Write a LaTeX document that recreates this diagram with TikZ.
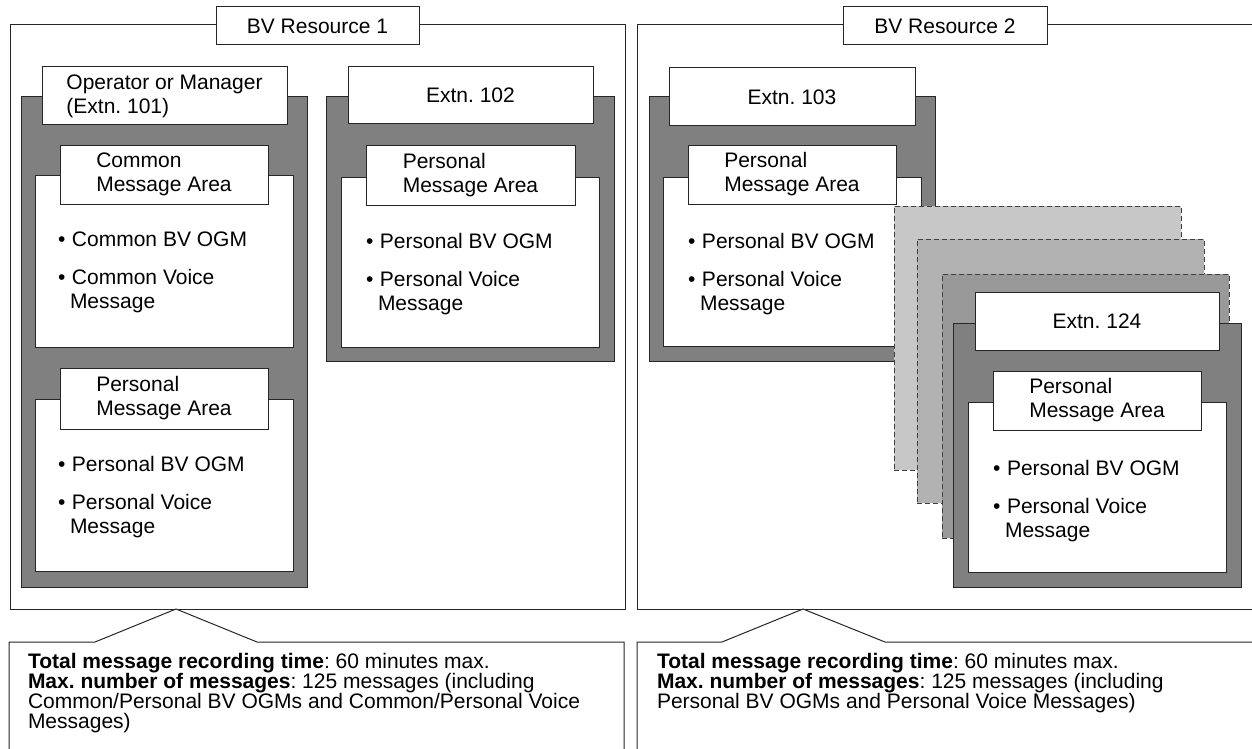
\documentclass[tikz,border=0pt]{standalone}
\usepackage{fontspec}
\setmainfont{Liberation Sans}
\usetikzlibrary{positioning, fit, calc}

% bullet line and its continuation
\newcommand{\bul}[1]{\makebox[14pt][l]{•}#1}
\newcommand{\cont}[1]{\hspace*{12pt}#1}

\begin{document}
\frenchspacing
\begin{tikzpicture}[
    x=1pt, y=-1pt,
    every node/.style={inner sep=0pt, outer sep=0pt},
    line/.style={draw=black!85, line width=1pt},
    frame/.style={line, fill=white},
    tag/.style={line, fill=white, font=\fontsize{21}{24}\selectfont, align=left},
    panel/.style={line, fill=black!50},
    area/.style={line, fill=white},
    card/.style={draw=black!75, line width=1pt, dash pattern=on 5pt off 3pt},
    items/.style={anchor=north west, font=\fontsize{21}{24}\selectfont, align=left},
    note/.style={anchor=north west, font=\fontsize{21}{20}\selectfont, align=left},
]
\useasboundingbox (0,0) rectangle (1252,749);
\clip (0,0) rectangle (1252,749);

% ---- BV resource frames ----
\node[frame, fit={(10,25) (625,609)}] (res1) {};
\node[frame, fit={(637,25) (1270,609)}] (res2) {};
\node[tag, minimum width=203pt, minimum height=38pt] (res1lbl) at (317.5,26)
    {BV Resource 1};
\node[tag, minimum width=204pt, minimum height=38pt] (res2lbl) at (945,26)
    {BV Resource 2};

% ---- Extn. 101 ----
\node[panel, fit={(21,97) (307,587)}] (p101) {};
\node[tag, minimum width=245pt, minimum height=58pt] (t101) at (164.5,96)
    {Operator or Manager\\(Extn. 101)};
\node[area, fit={(35,175) (293,347)}] (a101c) {};
\node[tag, minimum width=208pt, minimum height=59pt] (l101c) at (164,174.5)
    {Common\\Message Area};
\node[items] (i101c) at ($(a101c.north west)+(23,57)$)
    {\bul{Common BV OGM}\\[14pt]\bul{Common Voice}\\\cont{Message}};
\node[area, fit={(35,399) (293,571)}] (a101p) {};
\node[tag, minimum width=208pt, minimum height=61pt] (l101p) at (164,398.5)
    {Personal\\Message Area};
\node[items] (i101p) at ($(a101p.north west)+(23,57)$)
    {\bul{Personal BV OGM}\\[14pt]\bul{Personal Voice}\\\cont{Message}};

% ---- Extn. 102 ----
\node[panel, fit={(326,97) (614,361)}] (p102) {};
\node[tag, minimum width=245pt, minimum height=57pt] (t102) at (470.5,95.5)
    {Extn. 102};
\node[area, fit={(341,177) (599,347)}] (a102) {};
\node[tag, minimum width=209pt, minimum height=60pt] (l102) at (470.5,175)
    {Personal\\Message Area};
\node[items] (i102) at ($(a102.north west)+(25,56)$)
    {\bul{Personal BV OGM}\\[14pt]\bul{Personal Voice}\\\cont{Message}};

% ---- Extn. 103 ----
\node[panel, fit={(649,97) (935,361)}] (p103) {};
\node[tag, minimum width=246pt, minimum height=58pt] (t103) at (792,97)
    {Extn. 103};
\node[area, fit={(663,177) (921,346)}] (a103) {};
\node[tag, minimum width=208pt, minimum height=59pt] (l103) at (792,174.5)
    {Personal\\Message Area};
\node[items] (i103) at ($(a103.north west)+(25,56)$)
    {\bul{Personal BV OGM}\\[14pt]\bul{Personal Voice}\\\cont{Message}};

% ---- stacked extensions (dashed) ----
\node[card, fill=black!22, fit={(894,206) (1181,470)}] (c1) {};
\node[card, fill=black!30, fit={(917,239) (1204,503)}] (c2) {};
\node[card, fill=black!40, fit={(942,274) (1229,538)}] (c3) {};

% ---- Extn. 124 ----
\node[panel, fit={(953,323) (1241,587)}] (p124) {};
\node[tag, minimum width=244pt, minimum height=58pt] (t124) at (1097,321)
    {Extn. 124};
\node[area, fit={(968,402) (1226,572)}] (a124) {};
\node[tag, minimum width=208pt, minimum height=59pt] (l124) at (1097,400.5)
    {Personal\\Message Area};
\node[items] (i124) at ($(a124.north west)+(25,58)$)
    {\bul{Personal BV OGM}\\[14pt]\bul{Personal Voice}\\\cont{Message}};

% ---- callouts ----
\coordinate (tip1) at ($(res1.south west)+(166,0)$);
\coordinate (tip2) at ($(res2.south west)+(166,0)$);
\path[frame] (9,770) -- (9,642) -- (95,642) -- (tip1) -- (257,642)
    -- (624,642) -- (624,770);
\path[frame] (637,770) -- (637,642) -- (722,642) -- (tip2) -- (885,642)
    -- (1270,642);
\node[note] (n1) at (28,653)
    {\textbf{Total message recording time}: 60 minutes max.\\
     \textbf{Max. number of messages}: 125 messages (including\\
     Common/Personal BV OGMs and Common/Personal Voice\\
     Messages)};
\node[note] (n2) at (657,653)
    {\textbf{Total message recording time}: 60 minutes max.\\
     \textbf{Max. number of messages}: 125 messages (including\\
     Personal BV OGMs and Personal Voice Messages)};

\end{tikzpicture}
\end{document}
